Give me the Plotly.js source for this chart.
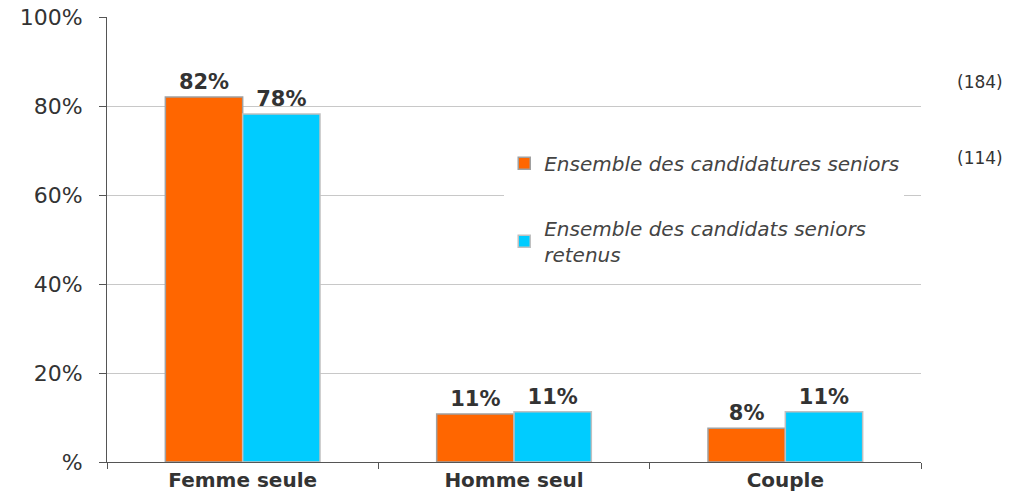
<!DOCTYPE html>
<html><head><meta charset="utf-8">
<script src="https://cdn.plot.ly/plotly-3.0.1.min.js"></script>
<style>html,body{margin:0;padding:0;background:#fff}#chart{width:1020px;height:500px}</style>
</head><body><div id="chart"></div>
<script>
const categories = ["Femme seule", "Homme seul", "Couple"];
const seriesNames = ["Ensemble des candidatures seniors", "Ensemble des candidats seniors<br>retenus"];
const candidatures = [82, 10.8, 7.6];
const retenus = [78.2, 11.3, 11.3];
const labelsCandidatures = ["82%", "11%", "8%"];
const labelsRetenus = ["78%", "11%", "11%"];
const yTickVals = [0, 20, 40, 60, 80, 100];
const yTickText = ["%", "20%", "40%", "60%", "80%", "100%"];
const counts = ["(184)", "(114)"];

const FONT = "DejaVu Sans, Verdana, sans-serif";
const common = {
  type: "bar", x: categories, textposition: "outside", cliponaxis: false,
  textfont: {family: FONT, size: 21, color: "#333", weight: "bold"},
  hoverinfo: "skip"
};
const traces = [
  Object.assign({}, common, {
    y: candidatures, text: labelsCandidatures, name: "<i>" + seriesNames[0] + "</i>",
    legendgroup: "a",
    marker: {color: "#FF6600", line: {color: "#a0a0a0", width: 1.5}}
  }),
  Object.assign({}, common, {
    y: retenus, text: labelsRetenus, name: "<i>" + seriesNames[1] + "</i>",
    legendgroup: "b",
    marker: {color: "#00CCFF", line: {color: "#c0c0c0", width: 1.5}}
  })
];

const layout = {
  width: 1020, height: 500,
  margin: {l: 107, r: 99, t: 17, b: 38},
  paper_bgcolor: "#fff", plot_bgcolor: "#fff",
  font: {family: FONT, color: "#333"},
  barmode: "group", bargap: 0.43, bargroupgap: 0,
  showlegend: true,
  legend: {
    x: 0.488, y: 0.715, xanchor: "left", yanchor: "top",
    bgcolor: "#fff", traceorder: "grouped", tracegroupgap: 36,
    font: {family: FONT, size: 20, color: "#444"}
  },
  xaxis: {
    type: "category", showgrid: false, showline: true, linecolor: "#555", linewidth: 1,
    ticks: "outside", tickson: "boundaries", ticklen: 6, tickcolor: "#555",
    tickfont: {family: FONT, size: 20, color: "#333", weight: "bold"},
    fixedrange: true
  },
  yaxis: {
    range: [0, 100], tickvals: yTickVals, ticktext: yTickText,
    showgrid: true, gridcolor: "#c8c8c8", gridwidth: 1,
    showline: true, linecolor: "#555", linewidth: 1,
    ticks: "outside", ticklen: 7, tickcolor: "#555", ticklabelstandoff: 12,
    tickfont: {family: FONT, size: 22, color: "#333"},
    zeroline: false, fixedrange: true
  },
  annotations: [
    {xref: "paper", yref: "paper", x: 1.0725, y: 0.854, text: counts[0], showarrow: false,
     xanchor: "center", yanchor: "middle", font: {family: FONT, size: 17, color: "#333"}},
    {xref: "paper", yref: "paper", x: 1.0725, y: 0.683, text: counts[1], showarrow: false,
     xanchor: "center", yanchor: "middle", font: {family: FONT, size: 17, color: "#333"}}
  ]
};
Plotly.newPlot("chart", traces, layout, {displayModeBar: false, staticPlot: true});
</script></body></html>
